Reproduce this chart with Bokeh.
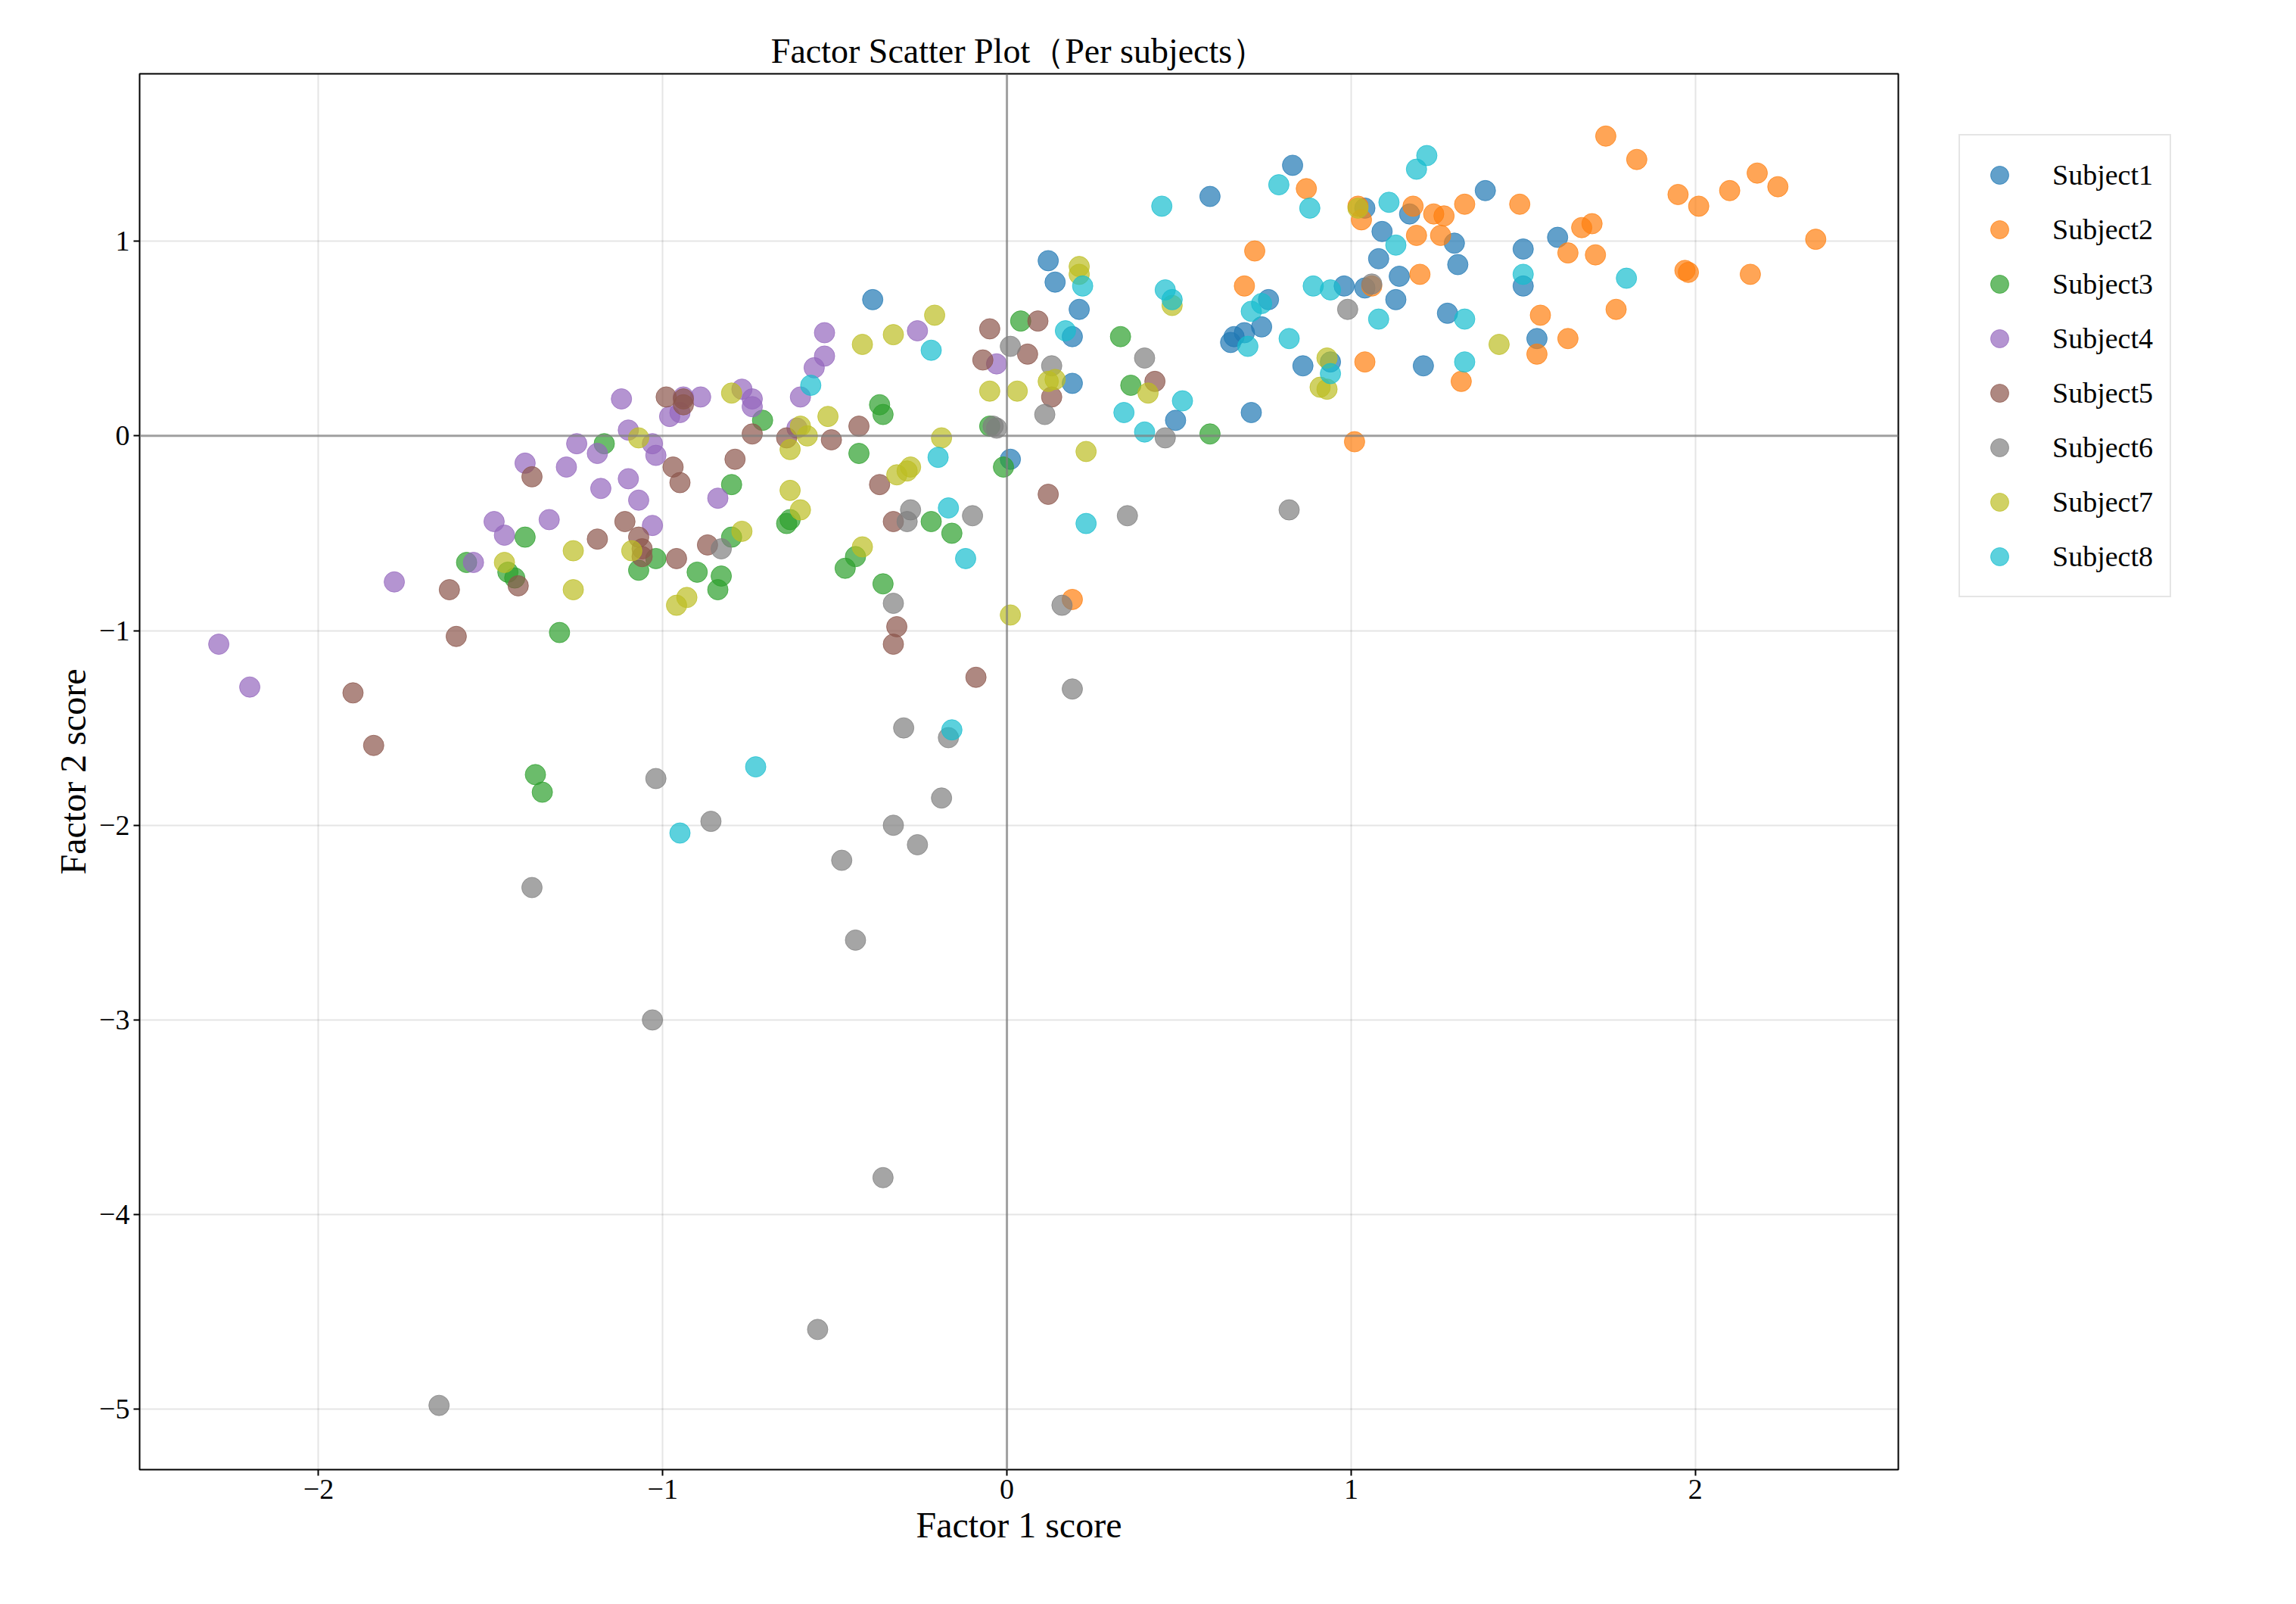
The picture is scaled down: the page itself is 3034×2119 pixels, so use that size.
from bokeh.plotting import figure
from bokeh.models import ColumnDataSource, Span, Legend, LegendItem, FixedTicker, Range1d
from bokeh.embed import file_html
from bokeh.resources import INLINE

# factor scores per subject: (factor 1, factor 2)
s1 = [(0.59, 1.23), (0.83, 1.39), (0.12, 0.90), (0.14, 0.79), (0.21, 0.65), (0.19, 0.51),
      (0.19, 0.27), (0.01, -0.12), (-0.39, 0.70), (0.65, 0.48), (0.66, 0.51), (0.69, 0.53),
      (0.74, 0.56), (0.76, 0.70), (0.71, 0.12), (0.49, 0.08), (0.86, 0.36), (0.98, 0.77),
      (1.04, 0.76), (1.08, 0.91), (1.09, 1.05), (1.04, 1.17), (1.17, 1.14), (1.14, 0.82),
      (1.13, 0.70), (1.21, 0.36), (1.30, 0.99), (1.31, 0.88), (1.28, 0.63), (1.39, 1.26),
      (1.50, 0.96), (1.50, 0.77), (1.54, 0.50), (1.60, 1.02), (0.94, 0.38)]
s2 = [(1.74, 1.54), (1.83, 1.42), (1.95, 1.24), (2.01, 1.18), (2.10, 1.26), (2.18, 1.35),
      (2.24, 1.28), (2.35, 1.01), (2.16, 0.83), (1.97, 0.85), (1.98, 0.84), (1.77, 0.65),
      (1.70, 1.09), (1.67, 1.07), (1.71, 0.93), (1.63, 0.94), (1.63, 0.50), (1.55, 0.62),
      (1.54, 0.42), (1.49, 1.19), (1.33, 1.19), (1.32, 0.28), (1.27, 1.13), (1.24, 1.14),
      (1.18, 1.18), (1.19, 1.03), (1.20, 0.83), (1.26, 1.03), (1.03, 1.11), (1.02, 1.18),
      (1.06, 0.77), (1.04, 0.38), (0.87, 1.27), (0.72, 0.95), (0.69, 0.77), (1.01, -0.03),
      (0.19, -0.84)]
s3 = [(0.33, 0.51), (0.36, 0.26), (0.59, 0.01), (0.04, 0.59), (-0.05, 0.05), (-0.01, -0.16),
      (-0.16, -0.50), (-0.22, -0.44), (-0.37, 0.16), (-0.36, 0.11), (-0.43, -0.09), (-0.36, -0.76),
      (-0.44, -0.62), (-0.47, -0.68), (-0.71, 0.08), (-0.80, -0.25), (-0.80, -0.52), (-0.83, -0.72),
      (-0.84, -0.79), (-0.90, -0.70), (-1.02, -0.63), (-1.07, -0.69), (-1.17, -0.04), (-1.40, -0.52),
      (-1.45, -0.70), (-1.43, -0.73), (-1.57, -0.65), (-1.30, -1.01), (-1.37, -1.74), (-1.35, -1.83),
      (-0.64, -0.45), (-0.63, -0.43)]
s4 = [(-2.29, -1.07), (-2.20, -1.29), (-1.78, -0.75), (-1.55, -0.65), (-1.49, -0.44), (-1.46, -0.51),
      (-1.33, -0.43), (-1.40, -0.14), (-1.28, -0.16), (-1.25, -0.04), (-1.19, -0.09), (-1.18, -0.27),
      (-1.12, 0.19), (-1.10, 0.03), (-1.10, -0.22), (-1.07, -0.33), (-1.03, -0.46), (-1.03, -0.04),
      (-1.02, -0.10), (-0.98, 0.10), (-0.95, 0.12), (-0.94, 0.20), (-0.89, 0.20), (-0.77, 0.24),
      (-0.74, 0.19), (-0.74, 0.15), (-0.84, -0.32), (-0.60, 0.20), (-0.61, 0.04), (-0.56, 0.35),
      (-0.53, 0.41), (-0.53, 0.53), (-0.26, 0.54), (-0.03, 0.37)]
s5 = [(-1.90, -1.32), (-1.84, -1.59), (-1.62, -0.79), (-1.60, -1.03), (-1.42, -0.77), (-1.38, -0.21),
      (-1.19, -0.53), (-1.11, -0.44), (-1.07, -0.52), (-1.06, -0.58), (-1.06, -0.62), (-0.99, 0.20),
      (-0.94, 0.16), (-0.94, 0.19), (-0.97, -0.16), (-0.95, -0.24), (-0.96, -0.63), (-0.87, -0.56),
      (-0.79, -0.12), (-0.74, 0.01), (-0.64, -0.01), (-0.51, -0.02), (-0.43, 0.05), (-0.37, -0.25),
      (-0.33, -0.44), (-0.32, -0.98), (-0.33, -1.07), (-0.09, -1.24), (-0.07, 0.39), (-0.05, 0.55),
      (0.06, 0.42), (0.09, 0.59), (0.13, 0.20), (0.12, -0.30), (0.43, 0.28)]
s6 = [(-1.65, -4.98), (-0.55, -4.59), (-0.36, -3.81), (-1.03, -3.00), (-0.44, -2.59), (-1.38, -2.32),
      (-0.48, -2.18), (-0.33, -2.00), (-0.26, -2.10), (-0.86, -1.98), (-1.02, -1.76), (-0.19, -1.86),
      (-0.30, -1.50), (-0.17, -1.55), (0.19, -1.30), (0.16, -0.87), (-0.33, -0.86), (-0.28, -0.38),
      (-0.10, -0.41), (-0.29, -0.44), (-0.83, -0.58), (0.35, -0.41), (0.82, -0.38), (0.46, -0.01),
      (0.40, 0.40), (0.13, 0.36), (0.11, 0.11), (0.01, 0.46), (-0.03, 0.04), (-0.04, 0.05),
      (0.99, 0.65), (1.06, 0.78)]
s7 = [(0.21, 0.87), (0.21, 0.83), (0.48, 0.67), (0.41, 0.22), (0.23, -0.08), (0.01, -0.92),
      (0.12, 0.28), (0.14, 0.29), (0.03, 0.23), (-0.05, 0.23), (-0.19, -0.01), (-0.21, 0.62),
      (-0.33, 0.52), (-0.42, 0.47), (-0.32, -0.20), (-0.29, -0.18), (-0.28, -0.16), (-0.42, -0.57),
      (-0.52, 0.10), (-0.60, 0.05), (-0.58, 0.00), (-0.63, -0.07), (-0.63, -0.28), (-0.60, -0.38),
      (-0.77, -0.49), (-0.80, 0.22), (-0.93, -0.83), (-0.96, -0.87), (-1.07, -0.01), (-1.09, -0.59),
      (-1.26, -0.59), (-1.26, -0.79), (-1.46, -0.65), (1.43, 0.47), (0.93, 0.24), (0.91, 0.25),
      (0.93, 0.40), (1.02, 1.17)]
s8 = [(1.22, 1.44), (1.19, 1.37), (1.11, 1.20), (1.13, 0.98), (1.08, 0.60), (1.33, 0.60),
      (1.33, 0.38), (1.50, 0.83), (1.80, 0.81), (0.79, 1.29), (0.88, 1.17), (0.45, 1.18),
      (0.89, 0.77), (0.94, 0.75), (0.82, 0.50), (0.94, 0.32), (0.74, 0.68), (0.71, 0.64),
      (0.70, 0.46), (0.46, 0.75), (0.48, 0.70), (0.51, 0.18), (0.34, 0.12), (0.40, 0.02),
      (0.22, 0.77), (0.17, 0.54), (0.23, -0.45), (-0.22, 0.44), (-0.57, 0.26), (-0.20, -0.11),
      (-0.17, -0.37), (-0.12, -0.63), (-0.16, -1.51), (-0.73, -1.70), (-0.95, -2.04)]

subjects = ["Subject1", "Subject2", "Subject3", "Subject4",
            "Subject5", "Subject6", "Subject7", "Subject8"]
series = [s1, s2, s3, s4, s5, s6, s7, s8]
colors = ["#1f77b4", "#ff7f0e", "#2ca02c", "#9467bd",
          "#8c564b", "#7f7f7f", "#bcbd22", "#17becf"]
x_ticks = [-2, -1, 0, 1, 2]
y_ticks = [-5, -4, -3, -2, -1, 0, 1]

FONT = "Liberation Serif"

p = figure(
    frame_width=2324, frame_height=1844,
    x_range=Range1d(-2.52, 2.59), y_range=Range1d(-5.31, 1.86),
    title="Factor Scatter Plot（Per subjects）",
    output_backend="svg", toolbar_location=None,
    min_border_left=184, min_border_top=97, min_border_bottom=150,
    background_fill_color="white",
)
p.title.align = "center"
p.title.text_font = FONT
p.title.text_font_size = "46px"
p.title.text_font_style = "normal"
p.title.text_color = "black"
p.outline_line_color = "black"
p.outline_line_width = 2

p.add_layout(Span(location=0, dimension="width", line_color="gray", line_alpha=0.7, line_width=3))
p.add_layout(Span(location=0, dimension="height", line_color="gray", line_alpha=0.7, line_width=3))

items = []
for name, pts, c in zip(subjects, series, colors):
    src = ColumnDataSource(data=dict(x=[a for a, b in pts], y=[b for a, b in pts]))
    r = p.scatter("x", "y", source=src, size=27, fill_color=c, line_color=c,
                  fill_alpha=0.7, line_alpha=0.7)
    items.append(LegendItem(label=name, renderers=[r]))

legend = Legend(items=items, location="top_left", label_text_font=FONT,
                label_text_font_size="38px", label_text_color="black",
                glyph_width=60, glyph_height=60,
                spacing=12, padding=22, margin=80, border_line_color="#cccccc",
                border_line_width=2, label_standoff=40)
p.add_layout(legend, "right")

for ax, ticks, lab in ((p.xaxis, x_ticks, "Factor 1 score"), (p.yaxis, y_ticks, "Factor 2 score")):
    ax.ticker = FixedTicker(ticks=ticks)
    ax.major_label_overrides = {t: str(t).replace("-", "−") for t in ticks}
    ax.axis_label = lab
    ax.axis_label_text_font = FONT
    ax.axis_label_text_font_size = "48px"
    ax.axis_label_text_font_style = "normal"
    ax.axis_label_text_color = "black"
    ax.major_label_text_font = FONT
    ax.major_label_text_font_size = "38px"
    ax.major_label_text_color = "black"
    ax.major_tick_in = 0
    ax.major_tick_out = 8
    ax.major_tick_line_width = 2
    ax.minor_tick_line_color = None
    ax.axis_line_color = None

p.grid.grid_line_color = "#000000"
p.grid.grid_line_alpha = 0.1
p.grid.grid_line_width = 2
p.xgrid.ticker = FixedTicker(ticks=x_ticks)
p.ygrid.ticker = FixedTicker(ticks=y_ticks)

open("out.html", "w").write(file_html(p, INLINE))
